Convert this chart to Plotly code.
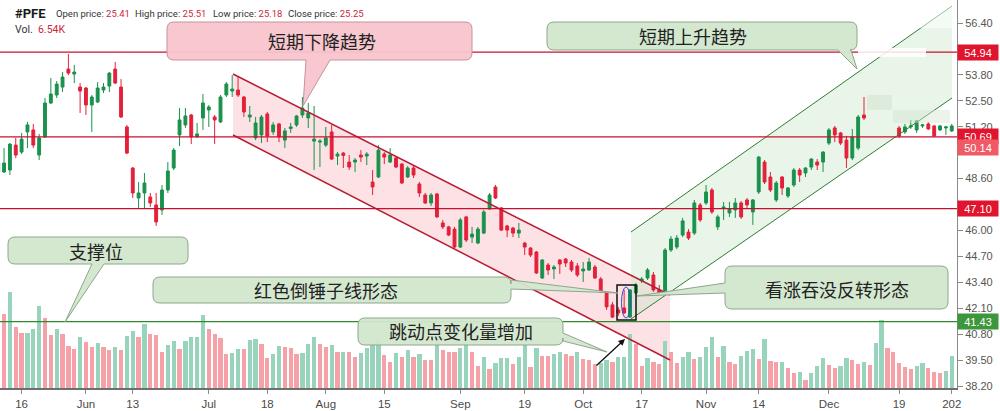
import pandas as pd
import plotly.graph_objects as go

# ---------------- data ----------------
holidays = ["2022-05-30", "2022-06-20", "2022-07-04", "2022-09-05",
            "2022-11-24", "2022-12-26", "2023-01-02"]
dates = [d.strftime("%Y-%m-%d") for d in pd.bdate_range("2022-05-10", "2023-01-03")
         if d.strftime("%Y-%m-%d") not in holidays]

N = None
opens = [48.93, 48.93, 49.03, 50.28, 49.93, 50.94, 51.04, 49.78, 50.69, 52.39,
         52.79, 53.19, 54.09, 53.84, 53.19, 53.14, 52.29, 52.44, 53.04, 53.24,
         54.09, 53.19, 51.19, 49.13, 47.63, 47.88, 47.68, 47.28, 47.03, 48.03,
         49.13, 50.79, 51.29, 51.79, 50.69, 51.64, 52.04, 51.69, 51.44, 52.79,
         52.99, 53.04, 52.69, 51.69, 50.64, 50.79, 51.84, 50.94, 51.34, 50.53,
         51.11, 51.29, 51.79, 51.64, 50.48, 50.43, 50.28, 50.94, 49.73, 49.88,
         49.43, 49.43, 49.78, 49.73, 48.43, 48.68, 49.83, 49.43, 49.63, 49.33,
         48.68, 49.13, 48.33, 47.78, 47.38, 47.83, 46.38, 46.18, 46.07, 45.17,
         46.68, 45.67, 45.37, 45.87, 47.08, 48.18, 47.13, 46.23, 46.12, 45.87,
         45.37, 45.12, 44.92, 43.62, 44.27, 44.07, 44.52, 44.57, 44.42, 44.22,
         43.97, 44.02, 44.17, 43.57, 42.87, 42.27, 42.02, 42.12, 41.66, 42.87,
         43.47, 43.62, 43.77, 43.02, 42.87, 45.02, 45.17, 45.77, 45.92, 45.87,
         47.28, 47.38, 48.03, 46.18, 47.10, 46.88, 47.03, 47.38, 47.53, 46.93,
         47.93, 49.43, 48.68, 47.53, 48.68, 47.73, 48.28, 49.03, 48.88, 49.18,
         49.43, 49.43, 50.38, 51.14, 50.89, 50.53, 49.63, 50.13, 51.79, N,
         N, N, N, N, 51.14, 50.94, 51.19, 51.04, 51.24, 51.34,
         51.24, 51.04, 51.14, 50.99]
highs = [49.53, 50.13, 50.38, 50.64, 50.89, 51.44, 51.34, 50.84, 52.64, 53.64,
         53.49, 53.94, 54.85, 54.30, 53.39, 53.19, 52.79, 53.44, 53.39, 53.94,
         54.45, 53.59, 51.29, 49.18, 48.43, 48.88, 47.88, 47.88, 48.28, 49.43,
         50.13, 52.14, 52.14, 51.84, 51.39, 52.84, 52.29, 51.79, 52.79, 53.44,
         53.79, 53.74, 52.74, 52.24, 51.69, 51.79, 51.94, 51.44, 51.39, 51.14,
         51.39, 51.79, 52.69, 52.39, 52.24, 50.58, 51.19, 51.29, 49.93, 49.93,
         49.78, 49.63, 50.03, 49.93, 49.03, 50.28, 49.93, 50.13, 49.68, 49.38,
         49.23, 49.23, 48.43, 47.88, 47.88, 47.88, 46.53, 46.23, 46.18, 46.63,
         46.73, 46.18, 46.18, 47.03, 47.88, 48.28, 47.18, 46.28, 46.18, 46.38,
         45.42, 45.17, 44.97, 44.57, 44.37, 44.27, 44.57, 44.62, 44.52, 44.37,
         44.42, 44.62, 44.27, 43.67, 42.92, 42.42, 42.17, 43.02, 43.07, 43.37,
         43.67, 44.12, 43.92, 43.27, 45.12, 45.72, 45.77, 46.63, 46.07, 47.53,
         47.38, 48.28, 48.13, 46.78, 47.43, 47.43, 47.63, 47.48, 47.63, 47.58,
         49.73, 49.53, 48.93, 48.48, 48.73, 48.18, 49.13, 49.13, 49.18, 49.63,
         49.58, 49.98, 51.14, 51.24, 50.94, 50.74, 51.09, 51.79, 52.69, N,
         N, N, N, N, 51.24, 51.34, 51.54, 51.54, 51.34, 51.44,
         51.29, 51.29, 51.24, 51.34]
lows = [48.83, 48.88, 48.78, 49.63, 49.83, 50.13, 50.13, 49.53, 50.64, 52.34,
        52.64, 52.94, 53.79, 53.39, 51.89, 51.79, 50.94, 52.39, 52.89, 52.94,
        53.34, 51.64, 49.83, 47.63, 47.13, 47.08, 47.18, 46.23, 46.78, 47.88,
        49.03, 50.23, 51.14, 50.33, 50.64, 51.04, 51.19, 50.33, 51.39, 52.69,
        52.69, 52.69, 51.69, 51.44, 50.53, 50.38, 50.43, 50.79, 50.43, 50.13,
        50.89, 51.19, 51.64, 51.14, 49.03, 49.18, 50.18, 49.53, 49.28, 49.13,
        49.03, 48.93, 49.43, 49.28, 47.78, 48.63, 49.33, 49.38, 49.13, 48.33,
        48.63, 48.63, 47.68, 47.33, 47.23, 46.63, 46.07, 45.72, 45.07, 45.12,
        45.42, 45.37, 45.32, 45.82, 47.03, 47.58, 45.97, 45.67, 45.67, 45.62,
        44.77, 44.67, 43.82, 43.57, 43.77, 43.57, 43.82, 44.17, 43.92, 43.67,
        43.42, 43.97, 43.57, 42.87, 42.02, 41.61, 41.72, 41.82, 41.61, 42.77,
        43.37, 43.52, 42.92, 42.77, 42.77, 44.92, 45.07, 45.67, 45.52, 45.77,
        46.43, 47.28, 46.83, 46.02, 46.53, 46.68, 46.63, 46.58, 47.13, 46.28,
        47.83, 48.33, 47.93, 47.43, 47.78, 47.63, 48.18, 48.43, 48.68, 49.03,
        49.03, 48.93, 50.28, 50.43, 50.28, 49.13, 49.53, 50.03, 51.54, N,
        N, N, N, N, 50.64, 50.84, 51.09, 50.89, 51.14, 51.04,
        50.69, 50.99, 50.79, 50.94]
closes = [49.38, 49.38, 50.33, 49.78, 50.58, 51.29, 50.28, 50.64, 52.39, 52.84,
          53.34, 53.69, 53.89, 53.94, 52.99, 52.29, 52.69, 53.14, 53.19, 53.89,
          53.39, 51.69, 49.88, 47.88, 47.88, 48.38, 47.38, 46.43, 48.03, 48.98,
          50.03, 51.54, 51.74, 50.69, 50.84, 52.39, 52.19, 51.54, 52.69, 53.34,
          53.09, 52.79, 51.94, 51.79, 51.39, 51.69, 50.74, 51.29, 50.69, 50.99,
          51.19, 51.74, 52.14, 51.89, 50.58, 50.48, 50.64, 49.58, 49.83, 49.76,
          49.18, 49.53, 49.68, 49.83, 48.18, 50.03, 49.68, 49.78, 49.18, 48.38,
          49.13, 48.78, 47.88, 47.38, 47.78, 46.68, 46.18, 45.77, 45.17, 46.53,
          45.52, 45.82, 46.07, 46.93, 47.78, 47.63, 46.02, 46.02, 45.87, 46.02,
          45.17, 44.77, 43.87, 44.52, 44.02, 44.17, 44.32, 44.37, 44.02, 43.77,
          44.07, 44.42, 43.62, 42.92, 42.17, 41.66, 41.87, 41.87, 43.02, 43.27,
          43.57, 44.02, 43.02, 42.87, 45.02, 45.57, 45.62, 46.48, 45.62, 47.38,
          46.53, 47.93, 46.93, 46.68, 47.18, 47.08, 47.38, 46.68, 47.28, 47.53,
          49.68, 48.43, 48.03, 48.38, 48.13, 48.13, 49.03, 48.78, 49.13, 49.58,
          49.28, 49.93, 51.04, 50.79, 50.38, 49.63, 50.69, 51.69, 51.64, N,
          N, N, N, N, 50.74, 51.19, 51.24, 51.49, 51.29, 51.09,
          50.74, 51.24, 51.19, 51.24]
volume_m = [46.5, 37, 48, 30.5, 27.5, 27.5, 29.5, 41, 35, 26.5,
            29.5, 27, 21, 19.5, 25.5, 23, 20.5, 22.5, 20.5, 19,
            20.5, 19, 26, 28.5, 25.5, 32, 27, 26.5, 18, 21.5,
            23.5, 19.5, 23.5, 25.5, 25.5, 36.5, 29.5, 27, 25, 17,
            17.5, 19.5, 19.5, 24, 24.5, 22, 15, 17, 21, 20.5,
            20, 17, 17.5, 22, 25.5, 22, 20.5, 21.5, 18, 18,
            18, 15.5, 17.5, 20, 21.5, 24, 16.5, 13, 17.5, 15.5,
            19, 15.5, 17, 14, 14, 23, 19, 18, 18, 20,
            22, 18, 11, 15.5, 9.5, 12.5, 15, 15, 12, 15.5,
            21.5, 10.5, 20, 16, 16, 17, 18, 17, 16, 18,
            14.5, 14, 12, 12.5, 14, 13, 15.5, 15.5, 27, 22,
            11, 15, 13, 12, 23.5, 18, 12.5, 15.5, 18, 14.5,
            15.5, 20.5, 25.5, 15.5, 21, 13, 12, 16, 18.5, 19.5,
            14.5, 24.5, 13.5, 13, 13, 10, 7.5, 8, 4, 7.5,
            11, 15, 11.5, 10, 11, 15, 14, 12, 13, 11.5,
            22.5, 34, 20, 18, 12.5, 10.5, 9.5, 11, 12.5, 10,
            8, 7.5, 8.5, 16]
volume_up = [1, 0, 1, 0, 0, 1, 1, 1, 0, 0, 1, 0, 0, 0, 1, 0, 0, 1, 0, 0,
             1, 0, 1, 1, 0, 1, 0, 0, 0, 1, 1, 0, 1, 1, 1, 1, 0, 0, 0, 0,
             1, 1, 0, 1, 1, 0, 0, 1, 1, 0, 0, 0, 1, 1, 1, 0, 0, 1, 0, 1,
             0, 0, 1, 1, 1, 1, 0, 0, 1, 0, 1, 0, 1, 0, 0, 1, 0, 0, 0, 1,
             1, 0, 0, 1, 0, 1, 1, 1, 0, 1, 1, 0, 1, 0, 0, 1, 1, 0, 0, 1,
             0, 0, 0, 1, 1, 0, 1, 1, 1, 0, 0, 1, 0, 0, 1, 0, 0, 1, 1, 0,
             1, 1, 1, 0, 1, 0, 0, 1, 1, 1, 0, 1, 0, 0, 1, 0, 0, 1, 0, 1,
             1, 1, 0, 0, 1, 1, 0, 0, 1, 0, 1, 1, 0, 0, 0, 0, 0, 1, 1, 0,
             0, 0, 1, 1]

tick_dates = ["2022-05-16", "2022-06-01", "2022-06-13", "2022-07-01", "2022-07-18",
              "2022-08-01", "2022-08-15", "2022-09-01", "2022-09-19", "2022-10-03",
              "2022-10-17", "2022-11-01", "2022-11-14", "2022-12-01", "2022-12-19",
              "2023-01-03"]
tick_labels = ["16", "Jun", "13", "Jul", "18", "Aug", "15", "Sep", "19", "Oct",
               "17", "Nov", "14", "Dec", "19", "202"]
price_ticks = [56.40, 53.80, 52.50, 51.20, 48.60, 46.00, 44.70, 43.40, 42.10,
               40.80, 39.50, 38.20]
resistance_levels = [54.94, 50.69, 47.10]
support_level = 41.43
last_price = 50.14

for arr in (opens, highs, lows, closes, volume_m, volume_up):
    assert len(arr) == len(dates), (len(arr), len(dates))

x = list(range(len(dates)))

# ---------------- pixel calibration (layout only) ----------------
PLOT_W, PLOT_H = 957, 388
X_OFF, PX_DAY = -1.8, 5.85
Y_TOP, Y_PX = 57.553, 0.050125


def DX(px):
    return (px - X_OFF) / PX_DAY


def DY(py):
    return Y_TOP - Y_PX * py


def PX(px):
    return px / PLOT_W


def PY(py):
    return 1 - py / PLOT_H


GREEN = "#1a914c"
RED = "#e3213a"
VOL_G = "#98d4bc"
VOL_R = "#f6a0a8"

fig = go.Figure()
fig.add_trace(go.Bar(
    x=x, y=volume_m, yaxis="y2", width=0.72,
    marker=dict(color=[VOL_G if u else VOL_R for u in volume_up], line=dict(width=0)),
    hoverinfo="skip", showlegend=False))
fig.add_trace(go.Candlestick(
    x=x, open=opens, high=highs, low=lows, close=closes,
    increasing=dict(line=dict(color=GREEN, width=1), fillcolor=GREEN),
    decreasing=dict(line=dict(color=RED, width=1), fillcolor=RED),
    showlegend=False))

shapes = []


def poly(pts):
    s = "M" + " L".join(f"{DX(a):.4f},{DY(b):.4f}" for a, b in pts) + " Z"
    return s


def rect_px(x0, y0, x1, y1, **kw):
    return dict(type="rect", xref="x", yref="y", x0=DX(x0), x1=DX(x1), y0=DY(y1), y1=DY(y0), **kw)


# down-trend channel
shapes.append(dict(type="path", xref="x", yref="y",
                   path=poly([(233, 74), (670, 295), (670, 360), (233, 135)]),
                   fillcolor="rgba(248,190,198,0.45)", line=dict(width=0), layer="below"))
for (a, b), (c, d) in [((233, 74), (670, 295)), ((233, 135), (670, 360))]:
    shapes.append(dict(type="line", xref="x", yref="y", x0=DX(a), y0=DY(b), x1=DX(c), y1=DY(d),
                       line=dict(color="#b81d34", width=1.5), layer="above"))
# up-trend channel
shapes.append(dict(type="path", xref="x", yref="y",
                   path=poly([(631, 232), (952, 6), (952, 98), (631, 319)]),
                   fillcolor="rgba(196,228,196,0.38)", line=dict(width=0), layer="below"))
for (a, b), (c, d) in [((631, 232), (952, 6)), ((631, 319), (952, 98))]:
    shapes.append(dict(type="line", xref="x", yref="y", x0=DX(a), y0=DY(b), x1=DX(c), y1=DY(d),
                       line=dict(color="#2e7d32", width=1), layer="above"))

# horizontal levels
for lv in resistance_levels:
    shapes.append(dict(type="line", xref="paper", x0=0, x1=1, yref="y", y0=lv, y1=lv,
                       line=dict(color="#c8102e", width=1.3), layer="above"))
shapes.append(dict(type="line", xref="paper", x0=0, x1=1, yref="y", y0=support_level,
                   y1=support_level, line=dict(color="#2f8a2f", width=1.3), layer="above"))

# faded (erased) patches at the top right of the original picture
shapes.append(rect_px(858, 48, 926, 57, fillcolor="rgba(255,255,255,0.85)", line=dict(width=0), layer="above"))
shapes.append(rect_px(905, 0, 957, 28, fillcolor="rgba(255,255,255,0.5)", line=dict(width=0), layer="above"))
shapes.append(rect_px(867, 95, 892, 110, fillcolor="rgba(205,224,203,0.45)", line=dict(width=0), layer="above"))
shapes.append(rect_px(893, 110, 950, 123, fillcolor="rgba(210,228,208,0.45)", line=dict(width=0), layer="above"))

# marker box + ellipse
shapes.append(dict(type="rect", xref="x", yref="y", x0=DX(617), x1=DX(636), y0=DY(320), y1=DY(285),
                   line=dict(color="#111111", width=1.5), layer="above"))
shapes.append(dict(type="circle", xref="x", yref="y", x0=DX(621.5), x1=DX(630.5), y0=DY(318), y1=DY(287),
                   line=dict(color="#2a4fd0", width=1), layer="above"))


def bubble(x0, y0, x1, y1, r, tail):
    edge, a, b, tx, ty = tail
    c = []

    def L(px, py):
        c.append(f"L{DX(px):.4f},{DY(py):.4f}")

    def Q(cx, cy, px, py):
        c.append(f"Q{DX(cx):.4f},{DY(cy):.4f} {DX(px):.4f},{DY(py):.4f}")

    c.append(f"M{DX(x0 + r):.4f},{DY(y0):.4f}")
    if edge == "top":
        L(a, y0); L(tx, ty); L(b, y0)
    L(x1 - r, y0); Q(x1, y0, x1, y0 + r)
    if edge == "right":
        L(x1, a); L(tx, ty); L(x1, b)
    L(x1, y1 - r); Q(x1, y1, x1 - r, y1)
    if edge == "bottom":
        L(a, y1); L(tx, ty); L(b, y1)
    L(x0 + r, y1); Q(x0, y1, x0, y1 - r)
    if edge == "left":
        L(x0, a); L(tx, ty); L(x0, b)
    L(x0, y0 + r); Q(x0, y0, x0 + r, y0)
    c.append("Z")
    return " ".join(c)


PINK_FILL, PINK_LINE = "rgba(248,196,204,0.95)", "#c2959b"
GRN_FILL, GRN_LINE = "rgba(210,231,206,0.95)", "#8fa68f"
callouts = [
    ("短期下降趋势", (167, 22, 472, 60), ("bottom", 330, 306, 303, 106), PINK_FILL, PINK_LINE, (322, 41)),
    ("短期上升趋势", (547, 22, 857, 50), ("bottom", 851, 838, 857, 69), GRN_FILL, GRN_LINE, (693, 36)),
    ("支撑位", (8, 237, 188, 264), ("bottom", 104, 92, 65, 322), GRN_FILL, GRN_LINE, (96, 251)),
    ("红色倒锤子线形态", (153, 277, 511, 303), ("right", 280, 289, 618, 293), GRN_FILL, GRN_LINE, (326, 290)),
    ("看涨吞没反转形态", (725, 266, 948, 309), ("left", 293, 283, 637, 296), GRN_FILL, GRN_LINE, (837, 289)),
    ("跳动点变化量增加", (358, 318, 563, 345), ("right", 333, 341, 607, 352), GRN_FILL, GRN_LINE, (461, 331)),
]
annotations = []
for text, (bx0, by0, bx1, by1), tail, fc, lc, (tx, ty) in callouts:
    shapes.append(dict(type="path", xref="x", yref="y", path=bubble(bx0, by0, bx1, by1, 7, tail),
                       fillcolor=fc, line=dict(color=lc, width=1), layer="above"))
    annotations.append(dict(x=PX(tx), y=PY(ty), xref="paper", yref="paper", text=text,
                            showarrow=False, xanchor="center", yanchor="middle",
                            font=dict(family="Noto Sans CJK SC", size=18, color="#222222")))

# arrow
annotations.append(dict(x=DX(625), y=DY(339), ax=DX(595), ay=DY(367), xref="x", yref="y",
                        axref="x", ayref="y", text="", showarrow=True, arrowhead=2,
                        arrowsize=1, arrowwidth=1.3, arrowcolor="#111111"))

# header
HF = "Roboto, Arial, sans-serif"
annotations.append(dict(x=PX(13), y=PY(14), xref="paper", yref="paper", text="<b>#PFE</b>",
                        showarrow=False, xanchor="left", yanchor="middle",
                        font=dict(family=HF, size=13, color="#1a1a1a")))
header = [(54, "Open price:", "25.41"), (133, "High price:", "25.51"),
          (211, "Low price:", "25.18"), (286, "Close price:", "25.25")]
for hx, lab, val in header:
    annotations.append(dict(x=PX(hx), y=PY(14), xref="paper", yref="paper",
                            text=f"{lab} <span style='color:#c8283c'>{val}</span>",
                            showarrow=False, xanchor="left", yanchor="middle",
                            font=dict(family=HF, size=9.5, color="#333333")))
annotations.append(dict(x=PX(13), y=PY(30), xref="paper", yref="paper",
                        text="Vol.  <span style='color:#c8283c'>6.54K</span>",
                        showarrow=False, xanchor="left", yanchor="middle",
                        font=dict(family=HF, size=10.5, color="#333333")))

# price badges
badges = [(54.94, "#e0142c"), (50.69, "#e0142c"), (last_price, "#ef5a66"),
          (47.10, "#e0142c"), (support_level, "#3c963c")]
for val, col in badges:
    annotations.append(dict(x=1, y=val, xref="paper", yref="y", text=f"{val:.2f}",
                            showarrow=False, xanchor="left", yanchor="middle", xshift=0,
                            bgcolor=col, width=40, height=15, borderpad=0,
                            font=dict(family="Liberation Sans, Arial", size=11, color="white")))

fig.update_layout(
    width=1000, height=411, margin=dict(l=0, r=43, t=0, b=23),
    paper_bgcolor="white", plot_bgcolor="white", showlegend=False,
    shapes=shapes, annotations=annotations, bargap=0,
    xaxis=dict(range=[DX(0), DX(PLOT_W)], tickmode="array",
               tickvals=[dates.index(d) for d in tick_dates], ticktext=tick_labels,
               showgrid=False, zeroline=False, showline=True, linecolor="#6e6e6e", linewidth=1.5,
               ticks="outside", ticklen=4, tickcolor="#888888",
               tickfont=dict(family="Liberation Sans, Arial", size=11.5, color="#4a4a4a"),
               rangeslider=dict(visible=False), fixedrange=True),
    yaxis=dict(range=[DY(PLOT_H), DY(0)], side="right", tickmode="array",
               tickvals=price_ticks, ticktext=[f"{v:.2f}" for v in price_ticks],
               showgrid=False, zeroline=False, showline=True, linecolor="#8a8a8a", linewidth=1,
               ticks="outside", ticklen=5, tickcolor="#888888",
               tickfont=dict(family="Liberation Sans, Arial", size=11, color="#555555"),
               fixedrange=True),
    yaxis2=dict(overlaying="y", range=[0, PLOT_H / 2], visible=False, fixedrange=True),
)

fig.write_html("out.html", config={"displayModeBar": False},
               post_script="document.body.style.margin='0';document.body.style.overflow='hidden';")
